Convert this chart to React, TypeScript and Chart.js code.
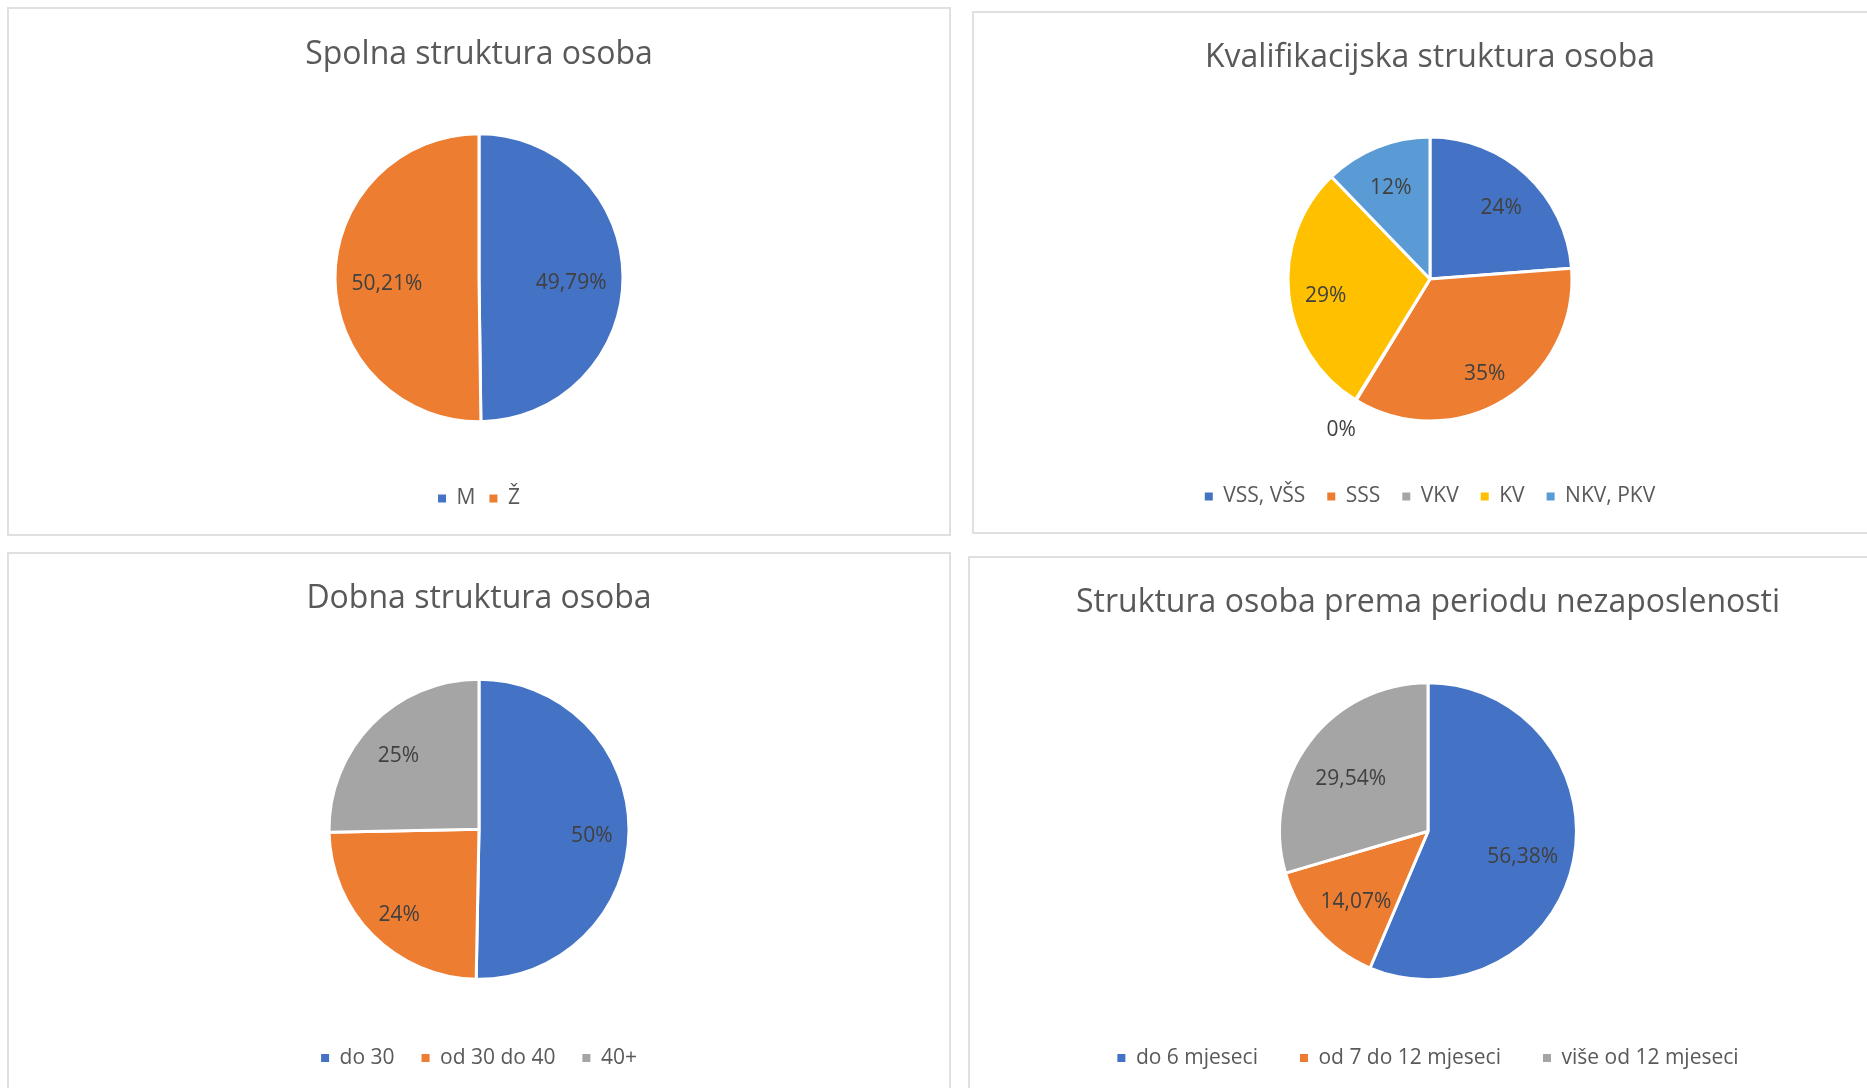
import React, { useEffect, useRef } from 'react';
import { Chart, registerables } from 'chart.js';

Chart.register(...registerables);

// ---------------- DATA ----------------
const genderTitle = 'Spolna struktura osoba';
const genderLabels = ['M', 'Ž'];
const genderValues = [49.79, 50.21];

const qualTitle = 'Kvalifikacijska struktura osoba';
const qualLabels = ['VSS, VŠS', 'SSS', 'VKV', 'KV', 'NKV, PKV'];
const qualValues = [23.8, 34.9, 0.1, 29.0, 12.2];

const ageTitle = 'Dobna struktura osoba';
const ageLabels = ['do 30', 'od 30 do 40', '40+'];
const ageValues = [50.3, 24.4, 25.3];

const periodTitle = 'Struktura osoba prema periodu nezaposlenosti';
const periodLabels = ['do 6 mjeseci', 'od 7 do 12 mjeseci', 'više od 12 mjeseci'];
const periodValues = [56.38, 14.07, 29.54];

// ---------------- STYLE ----------------
const BLUE = '#4472C4';
const ORANGE = '#ED7D31';
const GRAY = '#A5A5A5';
const GOLD = '#FFC000';
const LBLUE = '#5B9BD5';
const FONT = '"Open Sans"';
const TEXT = '#595959';
const LABEL = '#404040';
const BORDER_W = 3;

type PanelCfg = {
  title: string;
  labels: string[];
  values: number[];
  colors: string[];
  decimals: number;
  left: number;
  top: number;
  width: number;
  height: number;
  titlePadTop: number;
  titlePadBottom: number;
  legendPad: number;
  bottomPad: number;
  radius: number;
};

const panels: PanelCfg[] = [
  {
    title: genderTitle, labels: genderLabels, values: genderValues, colors: [BLUE, ORANGE], decimals: 2,
    left: 7, top: 7, width: 944, height: 529,
    titlePadTop: 26.3, titlePadBottom: 7.7, legendPad: 14, bottomPad: 15, radius: 144,
  },
  {
    title: qualTitle, labels: qualLabels, values: qualValues, colors: [BLUE, ORANGE, GRAY, GOLD, LBLUE], decimals: 0,
    left: 972, top: 11, width: 916, height: 523,
    titlePadTop: 25.7, titlePadBottom: 16.9, legendPad: 22, bottomPad: 15, radius: 142,
  },
  {
    title: ageTitle, labels: ageLabels, values: ageValues, colors: [BLUE, ORANGE, GRAY], decimals: 0,
    left: 7, top: 552, width: 944, height: 542,
    titlePadTop: 25.6, titlePadBottom: 20.1, legendPad: 27, bottomPad: 13.5, radius: 150,
  },
  {
    title: periodTitle, labels: periodLabels, values: periodValues, colors: [BLUE, ORANGE, GRAY], decimals: 2,
    left: 968, top: 556, width: 920, height: 538,
    titlePadTop: 25.4, titlePadBottom: 35.3, legendPad: 42, bottomPad: 13.5, radius: 148.5,
  },
];

const sliceLabels = {
  id: 'sliceLabels',
  afterDatasetsDraw(chart: any, _args: any, opts: any) {
    const ctx = chart.ctx;
    const meta = chart.getDatasetMeta(0);
    const ds = chart.data.datasets[0];
    ctx.save();
    ctx.font = `normal ${opts.size}px ${FONT}`;
    ctx.fillStyle = LABEL;
    ctx.textAlign = 'center';
    ctx.textBaseline = 'middle';
    meta.data.forEach((arc: any, i: number) => {
      const p = arc.getProps(['x', 'y', 'startAngle', 'endAngle', 'outerRadius'], true);
      const v = ds.data[i] as number;
      const text = v.toFixed(opts.decimals).replace('.', ',') + '%';
      const w = ctx.measureText(text).width;
      const r = p.outerRadius - BORDER_W / 2;
      const mid = (p.startAngle + p.endAngle) / 2;
      const span = p.endAngle - p.startAngle;
      const inside = span * r * 0.6 > w;
      const d = inside ? r - w / 2 - 15 : r + w / 2 + 15;
      ctx.fillText(text, p.x + Math.cos(mid) * d, p.y + Math.sin(mid) * d + 6);
    });
    ctx.restore();
  },
};

function PiePanel({ cfg }: { cfg: PanelCfg }) {
  const ref = useRef<HTMLCanvasElement | null>(null);
  const cw = cfg.width - 4;
  const ch = cfg.height - 4;

  useEffect(() => {
    if (!ref.current) return;
    const defaultGen = (Chart as any).overrides.pie.plugins.legend.labels.generateLabels;
    const chart = new Chart(ref.current, {
      type: 'pie',
      data: {
        labels: cfg.labels,
        datasets: [
          {
            data: cfg.values,
            backgroundColor: cfg.colors,
            borderColor: '#ffffff',
            borderWidth: BORDER_W,
            radius: cfg.radius,
          } as any,
        ],
      },
      options: {
        responsive: false,
        animation: false,
        events: [],
        layout: { padding: { top: 0, left: 0, right: 0, bottom: cfg.bottomPad } },
        plugins: {
          title: {
            display: true,
            text: cfg.title,
            color: TEXT,
            font: { family: FONT, size: 32, weight: 'normal' },
            padding: { top: cfg.titlePadTop, bottom: cfg.titlePadBottom },
          },
          legend: {
            display: true,
            position: 'bottom',
            labels: {
              boxWidth: 8,
              boxHeight: 8,
              padding: cfg.legendPad,
              color: TEXT,
              font: { family: FONT, size: 21 },
              generateLabels: (c: any) =>
                defaultGen(c).map((it: any) => ({ ...it, lineWidth: 0, strokeStyle: 'rgba(0,0,0,0)' })),
            },
          },
          tooltip: { enabled: false },
          sliceLabels: { decimals: cfg.decimals, size: 21 },
        } as any,
      },
      plugins: [sliceLabels],
    });
    return () => chart.destroy();
  }, []);

  return (
    <div
      style={{
        position: 'absolute',
        left: cfg.left,
        top: cfg.top,
        width: cfg.width,
        height: cfg.height,
        border: '2px solid #e0e0e0',
        boxSizing: 'border-box',
        background: '#fff',
      }}
    >
      <canvas ref={ref} width={cw} height={ch} style={{ display: 'block', width: cw, height: ch }} />
    </div>
  );
}

export default function App() {
  return (
    <div
      style={{
        position: 'fixed',
        left: 0,
        top: 0,
        width: 1867,
        height: 1088,
        overflow: 'hidden',
        background: '#ffffff',
      }}
    >
      {panels.map((p, i) => (
        <PiePanel key={i} cfg={p} />
      ))}
    </div>
  );
}
